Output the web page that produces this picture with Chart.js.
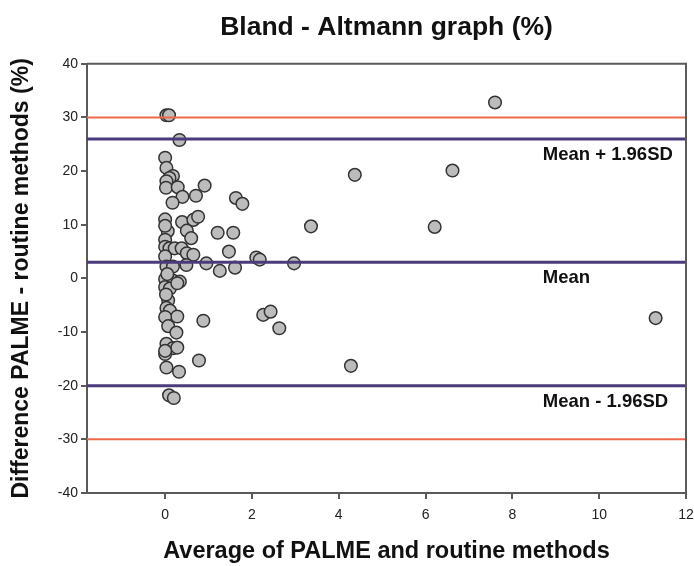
<!DOCTYPE html>
<html>
<head>
<meta charset="utf-8">
<script src="https://cdn.jsdelivr.net/npm/chart.js@4"></script>
<style>
  html, body { margin: 0; padding: 0; background: #fff; }
  #wrap { width: 694px; height: 566px; }
</style>
</head>
<body>
<div id="wrap"><canvas id="ba" width="694" height="566"></canvas></div>
<script>
// average of the two methods (x) and their difference in % (y)
const avgValues = [
  0.03, 0.09, 0.33, 0.00, 0.03, 0.18, 0.10, 0.03, 0.02, 0.29,
  0.91, 0.40, 0.71, 0.17, 1.63, 1.78, 0.00, 0.39, 0.65, 0.76,
  0.06, 0.50, 0.60, 1.21, 1.57, 0.00, 0.00, 0.10, 0.22, 0.38,
  0.50, 1.47, 0.65, 0.00, 2.10, 2.18, 0.95, 0.03, 0.18, 0.49,
  1.26, 1.61, 0.00, 0.18, 0.34, 0.00, 0.11, 0.28, 0.07, 0.03,
  0.11, 0.28, 0.00, 0.07, 0.26, 0.88, 2.26, 2.43, 2.63, 0.03,
  0.18, 0.28, 0.00, 0.78, 0.03, 0.32, 0.09, 0.20, 3.36, 2.97,
  4.37, 6.62, 6.21, 7.60, 11.30, 4.28, 0.00, 0.05, 0.02, 0.00
];
const diffValues = [
  30.4, 30.4, 25.8, 22.5, 20.6, 19.1, 18.7, 18.1, 16.9, 17.0,
  17.3, 15.2, 15.4, 14.1, 15.0, 13.9, 11.0, 10.5, 10.9, 11.5,
  8.8, 8.9, 7.5, 8.5, 8.5, 7.2, 5.9, 5.6, 5.6, 5.6,
  4.7, 5.0, 4.4, 4.1, 3.9, 3.5, 2.8, 2.2, 2.2, 2.5,
  1.4, 2.0, -0.1, -0.4, -0.6, -1.6, -1.9, -0.9, -4.1, -5.5,
  -6.0, -7.1, -7.2, -8.9, -10.1, -7.9, -6.8, -6.2, -9.3, -12.2,
  -13.0, -12.9, -14.1, -15.3, -16.6, -17.4, -21.8, -22.3, 9.7, 2.8,
  19.3, 20.1, 9.6, 32.8, -7.4, -16.3, 9.8, 0.8, -3.0, -13.5
];

const meanDiff = 3;
const upperLoA = 26;
const lowerLoA = -20;
const limitHigh = 30;
const limitLow = -30;

const xRange = [-1.8, 12];
const xTicks = [0, 2, 4, 6, 8, 10, 12];
const yRange = [-40, 40];

const refLabels = [
  { text: 'Mean + 1.96SD', y: upperLoA },
  { text: 'Mean', y: meanDiff },
  { text: 'Mean - 1.96SD', y: lowerLoA }
];

const hLine = (v) => xRange.map(x => ({ x: x, y: v }));
const points = avgValues.map((x, i) => ({ x: x, y: diffValues[i] }));

const purple = '#4b3b7c';
const orange = '#f0684a';
const axisGrey = '#5a5a5a';
const fontFam = '"Liberation Sans", Arial, sans-serif';

// frame on top/right + the line labels
const framePlugin = {
  id: 'frame',
  afterDatasetsDraw(chart) {
    const { ctx, chartArea: a, scales } = chart;
    ctx.save();
    ctx.strokeStyle = axisGrey;
    ctx.lineWidth = 2;
    ctx.beginPath();
    ctx.moveTo(a.left, a.top);
    ctx.lineTo(a.right, a.top);
    ctx.lineTo(a.right, a.bottom);
    ctx.stroke();

    ctx.fillStyle = '#111';
    ctx.font = 'bold 18.5px ' + fontFam;
    ctx.textBaseline = 'middle';
    ctx.textAlign = 'left';
    refLabels.forEach(l => {
      const px = scales.x.getPixelForValue(8.7);
      const py = scales.y.getPixelForValue(l.y) + 16;
      ctx.fillText(l.text, px, py);
    });
    ctx.restore();
  }
};

const ctx = document.getElementById('ba').getContext('2d');
new Chart(ctx, {
  type: 'scatter',
  data: {
    datasets: [
      { label: 'limit high', type: 'line', data: hLine(limitHigh), borderColor: orange, borderWidth: 2, pointRadius: 0 },
      { label: 'limit low', type: 'line', data: hLine(limitLow), borderColor: orange, borderWidth: 2, pointRadius: 0 },
      { label: 'upper', type: 'line', data: hLine(upperLoA), borderColor: purple, borderWidth: 3, pointRadius: 0 },
      { label: 'mean', type: 'line', data: hLine(meanDiff), borderColor: purple, borderWidth: 3, pointRadius: 0 },
      { label: 'lower', type: 'line', data: hLine(lowerLoA), borderColor: purple, borderWidth: 3, pointRadius: 0 },
      {
        label: 'differences',
        data: points,
        backgroundColor: '#bcbcbc',
        borderColor: '#333',
        borderWidth: 1.5,
        pointRadius: 6.3
      }
    ]
  },
  options: {
    responsive: false,
    animation: false,
    layout: { padding: { left: 0, right: 8, top: 0, bottom: 0 } },
    plugins: {
      legend: { display: false },
      tooltip: { enabled: false },
      title: {
        display: true,
        fullSize: false,
        text: 'Bland - Altmann graph (%)',
        color: '#111',
        font: { family: fontFam, size: 26.5, weight: 'bold' },
        padding: { top: 12, bottom: 20 }
      }
    },
    scales: {
      x: {
        type: 'linear',
        min: xRange[0],
        max: xRange[1],
        afterBuildTicks: s => { s.ticks = xTicks.map(v => ({ value: v })); },
        afterFit: s => {
          s.height = 73;
          s.paddingRight = 0;
          s.paddingLeft = 0;
        },
        grid: { drawOnChartArea: false, drawTicks: true, tickLength: 6, color: axisGrey, lineWidth: 2 },
        border: { display: true, color: axisGrey, width: 2 },
        ticks: {
          color: '#222',
          padding: 8,
          font: { family: fontFam, size: 14 }
        },
        title: {
          display: true,
          text: 'Average of PALME and routine methods',
          color: '#111',
          font: { family: fontFam, size: 23.5, weight: 'bold' },
          padding: { top: 0, bottom: 0 }
        }
      },
      y: {
        min: yRange[0],
        max: yRange[1],
        afterFit: s => { s.width = 87; },
        grid: { drawOnChartArea: false, drawTicks: true, tickLength: 6, color: axisGrey, lineWidth: 2 },
        border: { display: true, color: axisGrey, width: 2 },
        ticks: {
          stepSize: 10,
          color: '#222',
          padding: 3,
          font: { family: fontFam, size: 14 }
        },
        title: {
          display: true,
          text: 'Difference PALME - routine methods (%)',
          color: '#111',
          font: { family: fontFam, size: 23, weight: 'bold' },
          padding: { top: 8, bottom: 0 }
        }
      }
    }
  },
  plugins: [framePlugin]
});
</script>
</body>
</html>
